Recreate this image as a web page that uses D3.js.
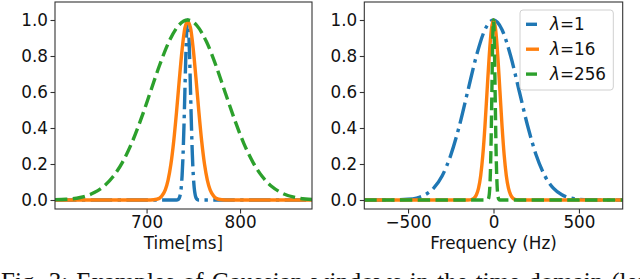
<!DOCTYPE html>
<html>
<head>
<meta charset="utf-8">
<script src="https://cdn.jsdelivr.net/npm/d3@7"></script>
<style>
  html, body { margin: 0; padding: 0; background: #fff; }
  svg { display: block; }
</style>
</head>
<body>
<svg id="chart" width="640" height="279"></svg>
<script>
// ---------------- DATA ----------------
const seriesNames = ["λ=1", "λ=16", "λ=256"];
const seriesColors = ["#1f77b4", "#ff7f0e", "#2ca02c"];

// Time domain (ms)
const timeBlueX   = [602, 732, 734, 735, 736, 737, 738, 739, 740, 741, 742, 743, 744, 745, 746, 747, 748, 749, 750, 751, 752, 753, 754, 756, 877];
const timeBlueY   = [0, 0, 0.004, 0.011, 0.029, 0.066, 0.135, 0.249, 0.411, 0.607, 0.801, 0.946, 1.000, 0.946, 0.801, 0.607, 0.411, 0.249, 0.135, 0.066, 0.029, 0.011, 0.004, 0, 0];
const timeOrangeX = [602, 704, 711, 716, 720, 723, 726, 729, 732, 735, 738, 741, 744, 747, 750, 753, 756, 759, 762, 765, 768, 772, 777, 784, 877];
const timeOrangeY = [0, 0, 0.004, 0.020, 0.056, 0.110, 0.198, 0.325, 0.487, 0.667, 0.835, 0.956, 0.990, 0.956, 0.835, 0.667, 0.487, 0.325, 0.198, 0.110, 0.056, 0.020, 0.004, 0, 0];
const timeGreenX  = [602, 614, 629, 644, 654, 664, 674, 684, 694, 704, 714, 724, 734, 744, 754, 764, 774, 784, 794, 804, 814, 824, 834, 844, 859, 877];
const timeGreenY  = [0.002, 0.004, 0.014, 0.041, 0.075, 0.129, 0.208, 0.315, 0.449, 0.599, 0.750, 0.880, 0.968, 1.000, 0.968, 0.880, 0.750, 0.599, 0.449, 0.315, 0.208, 0.129, 0.075, 0.041, 0.014, 0.003];

// Frequency domain (Hz)
const freqBlueX   = [-756, -600, -500, -450, -400, -350, -300, -250, -200, -150, -100, -50, 0, 50, 100, 150, 200, 250, 300, 350, 400, 450, 500, 600, 756];
const freqBlueY   = [0, 0, 0.004, 0.011, 0.029, 0.066, 0.135, 0.249, 0.411, 0.607, 0.801, 0.946, 1.000, 0.946, 0.801, 0.607, 0.411, 0.249, 0.135, 0.066, 0.029, 0.011, 0.004, 0, 0];
const freqOrangeX = [-756, -150, -125, -112.5, -100, -87.5, -75, -62.5, -50, -37.5, -25, -12.5, 0, 12.5, 25, 37.5, 50, 62.5, 75, 87.5, 100, 112.5, 125, 150, 756];
const freqOrangeY = [0, 0, 0.004, 0.011, 0.029, 0.066, 0.135, 0.249, 0.411, 0.607, 0.801, 0.946, 1.000, 0.946, 0.801, 0.607, 0.411, 0.249, 0.135, 0.066, 0.029, 0.011, 0.004, 0, 0];
const freqGreenX  = [-756, -36, -30, -27, -24, -21, -18, -15, -12, -9, -6, -3, 0, 3, 6, 9, 12, 15, 18, 21, 24, 27, 30, 36, 756];
const freqGreenY  = [0, 0, 0.006, 0.016, 0.038, 0.082, 0.160, 0.280, 0.443, 0.632, 0.816, 0.950, 1.000, 0.950, 0.816, 0.632, 0.443, 0.280, 0.160, 0.082, 0.038, 0.016, 0.006, 0, 0];

// Axis ticks and labels
const yTicks = [0.0, 0.2, 0.4, 0.6, 0.8, 1.0];
const timeTicks = [700, 800];
const freqTicks = [-500, 0, 500];
const timeLabel = "Time[ms]";
const freqLabel = "Frequency (Hz)";
const caption = "Fig. 3: Examples of Gaussian windows in the time domain (left) and the frequency domain (right)";

// ---------------- DRAWING ----------------
const svg = d3.select("#chart");
const FONT = "'DejaVu Sans', sans-serif";
const FS = 16.8;
const LW = 3.4;
const dashStyles = ["21.5,5.4,3.4,5.4", null, "12.4,5.4"];

function zip(xs, ys) { return xs.map((x, i) => [x, ys[i]]); }

function panel(cfg) {
  const { left, right, top, bottom, xDomain, xTicks, xLabel, series, id, legend } = cfg;
  const x = d3.scaleLinear().domain(xDomain).range([left, right]);
  const y = d3.scaleLinear().domain([-0.05, 1.10]).range([bottom, top]);
  const g = svg.append("g");

  g.append("clipPath").attr("id", id).append("rect")
    .attr("x", left).attr("y", top).attr("width", right - left).attr("height", bottom - top);

  const ya = g.append("g").attr("transform", `translate(${left},0)`)
    .call(d3.axisLeft(y).tickValues(yTicks).tickFormat(d3.format(".1f")).tickSize(4.5).tickPadding(2.5));
  const xa = g.append("g").attr("transform", `translate(0,${bottom})`)
    .call(d3.axisBottom(x).tickValues(xTicks).tickFormat(d => d < 0 ? "\u2212" + Math.abs(d) : String(d)).tickSize(4.5).tickPadding(3));
  [ya, xa].forEach(a => {
    a.select(".domain").remove();
    a.selectAll("line").attr("stroke", "#333").attr("stroke-width", 1.1);
    a.selectAll("text").attr("font-family", FONT).attr("font-size", FS).attr("fill", "#111");
  });

  const line = d3.line().x(d => x(d[0])).y(d => y(d[1])).curve(d3.curveMonotoneX);
  const cg = g.append("g").attr("clip-path", `url(#${id})`);
  series.forEach((s, i) => {
    cg.append("path").datum(s)
      .attr("d", line)
      .attr("fill", "none")
      .attr("stroke", seriesColors[i])
      .attr("stroke-width", LW)
      .attr("stroke-dasharray", dashStyles[i])
      .attr("stroke-linejoin", "round");
  });

  g.append("rect").attr("x", left).attr("y", top)
    .attr("width", right - left).attr("height", bottom - top)
    .attr("fill", "none").attr("stroke", "#333").attr("stroke-width", 1.1);

  g.append("text").attr("x", (left + right) / 2).attr("y", bottom + 39.5)
    .attr("text-anchor", "middle").attr("font-family", FONT).attr("font-size", FS).attr("fill", "#111")
    .text(xLabel);

  if (legend) {
    const lx = right - 102.7, ly = top + 8;
    const lg = g.append("g");
    lg.append("rect").attr("x", lx).attr("y", ly).attr("width", 93.3).attr("height", 80)
      .attr("rx", 3).attr("fill", "#fff").attr("fill-opacity", 0.8)
      .attr("stroke", "#d0d0d0").attr("stroke-width", 1);
    seriesNames.forEach((name, i) => {
      const cy = ly + 14.3 + i * 24.9;
      lg.append("line").attr("x1", lx + 6).attr("x2", lx + 19).attr("y1", cy).attr("y2", cy)
        .attr("stroke", seriesColors[i]).attr("stroke-width", LW)
        .attr("stroke-dasharray", i === 1 ? null : "11,30");
      const t = lg.append("text").attr("x", lx + 30).attr("y", cy + 6.1)
        .attr("font-family", FONT).attr("font-size", FS).attr("fill", "#111");
      const parts = name.split("=");
      t.append("tspan").attr("font-style", "italic").text(parts[0]);
      t.append("tspan").text("=" + parts[1]);
    });
  }
}

panel({
  id: "clipL", left: 55, right: 312, top: 2, bottom: 209,
  xDomain: [602, 877], xTicks: timeTicks, xLabel: timeLabel,
  series: [zip(timeBlueX, timeBlueY), zip(timeOrangeX, timeOrangeY), zip(timeGreenX, timeGreenY)],
  legend: false
});
panel({
  id: "clipR", left: 364.3, right: 622.7, top: 2, bottom: 209,
  xDomain: [-756, 756], xTicks: freqTicks, xLabel: freqLabel,
  series: [zip(freqBlueX, freqBlueY), zip(freqOrangeX, freqOrangeY), zip(freqGreenX, freqGreenY)],
  legend: true
});

// caption (cut off at the bottom like the reference)
svg.append("text").attr("x", 1).attr("y", 289.5)
  .attr("font-family", "'Liberation Serif', 'Times New Roman', serif")
  .attr("font-size", 25).attr("word-spacing", 1.8).attr("fill", "#111")
  .text(caption);
</script>
</body>
</html>
